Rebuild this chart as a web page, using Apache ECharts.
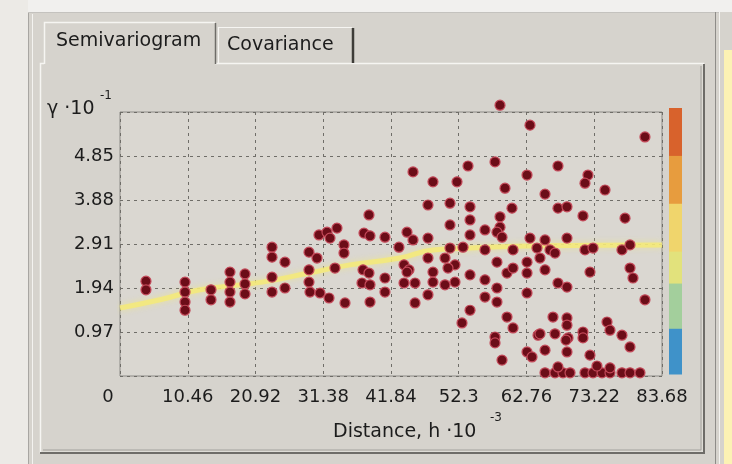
<!DOCTYPE html>
<html>
<head>
<meta charset="utf-8">
<script src="https://cdn.jsdelivr.net/npm/echarts@6/dist/echarts.min.js"></script>
<style>
  html, body { margin: 0; padding: 0; background: #d6d3cd; }
  #chart { width: 732px; height: 464px; }
</style>
</head>
<body>
<div id="chart"></div>
<script>
// Axis ticks (distance h·10^-3, semivariance γ·10^-1)
const distStep = 10.46;
const distMax = 83.68;
const gammaStep = 0.97;
const gammaMax = 5.82;

// Empirical semivariogram cloud, [distance, gamma] pairs
const shortLagPairs = [
  [4.01,2.09],[4.01,1.90],
  [10.04,2.07],[10.04,1.85],[10.04,1.63],[10.04,1.45],
  [14.05,1.90],[14.05,1.68],
  [16.98,2.29],[16.98,2.07],[16.98,1.85],[16.98,1.63],
  [19.30,2.25],[19.30,2.03],[19.30,1.81],
  [23.47,2.84],[23.47,2.62],[23.47,2.18],[23.47,1.85],
  [25.47,2.51],[25.47,1.94],
  [29.18,2.73],[30.41,2.60],[29.18,2.34],[29.18,2.07],[29.33,1.85],[30.88,1.83],[32.27,1.72],
  [30.72,3.11],[31.96,3.17],[33.50,3.26],[32.42,3.04],
  [34.58,2.89],[34.58,2.71],[33.19,2.38],[34.74,1.61],
  [38.44,3.55],[37.67,3.15],[38.60,3.09],[40.91,3.06],
  [37.52,2.34],[38.44,2.27],[37.36,2.05],[38.60,2.01],[38.60,1.63],
  [40.91,2.16],[40.91,1.85],
  [44.31,3.17],[43.07,2.84],[43.85,2.45],[44.62,2.34],[43.85,2.05]
];
const midLagPairs = [
  [58.67,5.97],[63.30,5.53],
  [45.24,4.50],[53.73,4.63],[57.90,4.72],[62.84,4.43],
  [48.32,4.28],[52.03,4.28],[59.44,4.14],
  [47.55,3.77],[50.95,3.81],[54.04,3.73],[60.52,3.70],
  [54.04,3.44],[50.95,3.33],[58.67,3.51],[58.67,3.28],[58.20,3.17],
  [56.35,3.22],[45.24,3.00],[47.55,3.04],[54.04,3.11],[58.98,3.06],[63.30,3.04],
  [50.95,2.82],[52.96,2.84],[56.35,2.78],[60.68,2.78],
  [47.55,2.60],[50.18,2.60],[51.72,2.45],[44.31,2.29],[48.32,2.29],[50.64,2.38],
  [58.20,2.51],[59.75,2.27],[60.68,2.38],[62.84,2.51],[62.84,2.27],
  [45.55,2.05],[48.32,2.07],[50.18,2.01],[51.72,2.07],[54.04,2.23],[56.35,2.12],
  [58.20,1.94],[47.55,1.79],[45.55,1.61],[56.35,1.74],[58.20,1.63],[62.84,1.83],
  [54.04,1.45],[52.80,1.17],[59.75,1.30],[60.68,1.06],[57.90,0.86],[57.90,0.73],
  [62.84,0.53],[63.61,0.42],[58.98,0.35],[64.54,0.90]
];
const longLagPairs = [
  [81.05,5.27],
  [67.62,4.63],[72.25,4.43],[71.79,4.25],[74.88,4.10],[65.62,4.01],
  [67.62,3.70],[69.01,3.73],[71.48,3.53],[77.97,3.48],
  [65.62,3.00],[69.01,3.04],[64.38,2.82],[66.39,2.78],[71.79,2.78],[73.03,2.82],[77.50,2.78],[78.74,2.89],
  [64.84,2.60],[67.16,2.71],[65.62,2.34],[72.56,2.29],[78.74,2.38],[79.20,2.16],
  [67.62,2.05],[69.01,1.96],[81.05,1.68],
  [66.85,1.30],[69.01,1.28],[75.19,1.19],[75.65,1.01],[69.01,1.12],
  [64.84,0.93],[67.16,0.93],[69.17,0.84],[71.48,0.97],[71.48,0.84],[77.50,0.90],[78.74,0.64],
  [65.62,0.57],[69.01,0.53],[72.56,0.46],[68.86,0.79],
  [65.62,0.07],[67.16,0.07],[68.39,0.07],[69.48,0.07],[71.79,0.07],[73.03,0.07],
  [74.42,0.07],[75.65,0.07],[77.50,0.07],[78.74,0.07],[80.28,0.07],
  [67.62,0.20],[73.64,0.22],[75.65,0.18]
];

// Fitted model curve
const modelDist  = [0, 6.18, 12.35, 21.92, 29.18, 35.51, 43.23, 48.32, 54.04, 64.84, 83.68];
const modelGamma = [1.50, 1.68, 1.90, 2.07, 2.27, 2.45, 2.60, 2.78, 2.82, 2.87, 2.89];

// Colour legend bands, top to bottom
const legendColors = ['#d8622c', '#e79c3e', '#f0d56c', '#e2e27c', '#a3cf9c', '#3f92c9'];
const legendBands  = [0.18, 0.18, 0.18, 0.12, 0.17, 0.17];

const FONT = 'DejaVu Sans';
const TXT = '#1c1c1c';

const chart = echarts.init(document.getElementById('chart'));

const gridL = 120, gridT = 112, gridR = 662, gridB = 376;

// legend colour bar rectangles
const barX = 669, barW = 13, barTop = 108, barBottom = 374;
const legendRects = [];
let acc = barTop;
legendColors.forEach((c, i) => {
  const h = legendBands[i] * (barBottom - barTop);
  legendRects.push({
    type: 'rect', shape: { x: barX, y: acc, width: barW, height: h + 0.5 },
    style: { fill: c }, z: 10
  });
  acc += h;
});

const scatterStyle = {
  color: '#6c0d18',
  borderColor: '#c44a5a',
  borderWidth: 1.2,
  opacity: 1
};

chart.setOption({
  backgroundColor: '#d6d3cd',
  animation: false,
  grid: {
    left: gridL, top: gridT, right: 732 - gridR, bottom: 464 - gridB,
    show: true, backgroundColor: '#dad7d1', borderColor: '#8c8a86', borderWidth: 1
  },
  xAxis: {
    type: 'value', min: 0, max: distMax, interval: distStep,
    axisLine: { show: false }, axisTick: { show: false },
    splitLine: { show: true, lineStyle: { color: '#6f6d68', type: [3, 4], width: 1 } },
    axisLabel: {
      color: TXT, fontFamily: FONT, fontSize: 18, margin: 12,
      formatter: v => v === 0 ? '{z|0}' : String(+v.toFixed(2)),
      rich: { z: { fontFamily: FONT, fontSize: 18, color: TXT, padding: [0, 24, 0, 0] } }
    }
  },
  yAxis: {
    type: 'value', min: 0, max: gammaMax, interval: gammaStep,
    axisLine: { show: false }, axisTick: { show: false },
    splitLine: { show: true, lineStyle: { color: '#6f6d68', type: [3, 4], width: 1 } },
    axisLabel: {
      color: TXT, fontFamily: FONT, fontSize: 18, margin: 6,
      formatter: v => (v === 0 || v > 5) ? '' : (+v.toFixed(2)).toFixed(2)
    }
  },
  graphic: [
    // window strips
    { type: 'rect', shape: { x: 0, y: 0, width: 732, height: 12 }, style: { fill: '#f1f0ee' }, z: -10 },
    { type: 'rect', shape: { x: 0, y: 0, width: 28, height: 464 }, style: { fill: '#eceae6' }, z: -10 },
    { type: 'line', shape: { x1: 28.5, y1: 12, x2: 28.5, y2: 464 }, style: { stroke: '#a8a6a2', lineWidth: 1 }, z: -9 },
    { type: 'line', shape: { x1: 28, y1: 12.5, x2: 720, y2: 12.5 }, style: { stroke: '#c4c2be', lineWidth: 1 }, z: -9 },
    { type: 'line', shape: { x1: 32.5, y1: 14, x2: 32.5, y2: 464 }, style: { stroke: '#f4f3f0', lineWidth: 1 }, z: -9 },
    // tab page frame
    { type: 'rect', shape: { x: 40.5, y: 63.5, width: 663, height: 389 },
      style: { fill: 'none', stroke: '#f6f5f2', lineWidth: 1.5 }, z: -8 },
    { type: 'polyline', shape: { points: [[704, 64], [704, 453], [40, 453]] },
      style: { fill: 'none', stroke: '#6e6c68', lineWidth: 2 }, z: -8 },
    { type: 'polyline', shape: { points: [[701, 66], [701, 450], [43, 450]] },
      style: { fill: 'none', stroke: '#a3a19c', lineWidth: 1 }, z: -8 },
    // right side panel
    { type: 'line', shape: { x1: 715.5, y1: 12, x2: 715.5, y2: 464 }, style: { stroke: '#8e8c88', lineWidth: 1 }, z: -9 },
    { type: 'line', shape: { x1: 719.5, y1: 12, x2: 719.5, y2: 464 }, style: { stroke: '#f4f3f0', lineWidth: 1 }, z: -9 },
    { type: 'rect', shape: { x: 724, y: 50, width: 8, height: 414 }, style: { fill: '#fcf2b4' }, z: -9 },
    // active tab
    { type: 'rect', shape: { x: 44, y: 22, width: 171, height: 43 }, style: { fill: '#d6d3cd' }, z: -7 },
    { type: 'polyline', shape: { points: [[44.5, 64], [44.5, 22.5], [215, 22.5]] },
      style: { fill: 'none', stroke: '#f6f5f2', lineWidth: 1.5 }, z: -7 },
    { type: 'line', shape: { x1: 215.5, y1: 23, x2: 215.5, y2: 64 }, style: { stroke: '#6e6c68', lineWidth: 1.5 }, z: -7 },
    // inactive tab
    { type: 'polyline', shape: { points: [[218.5, 63], [218.5, 27.5], [352, 27.5]] },
      style: { fill: 'none', stroke: '#f6f5f2', lineWidth: 1.2 }, z: -7 },
    { type: 'line', shape: { x1: 353, y1: 28, x2: 353, y2: 63 }, style: { stroke: '#3e3c38', lineWidth: 2.5 }, z: -7 },
    { type: 'text', left: 56, top: 32,
      style: { text: 'Semivariogram', fill: TXT, font: '19px "DejaVu Sans"' }, z: 5 },
    { type: 'text', left: 227, top: 36,
      style: { text: 'Covariance', fill: TXT, font: '19px "DejaVu Sans"' }, z: 5 },
    // axis titles
    { type: 'text', left: 47, top: 100,
      style: { text: 'γ ·10', fill: TXT, font: '19px "DejaVu Sans"' }, z: 5 },
    { type: 'text', left: 100, top: 90,
      style: { text: '-1', fill: TXT, font: '12px "DejaVu Sans"' }, z: 5 },
    { type: 'text', left: 333, top: 423,
      style: { text: 'Distance, h ·10', fill: TXT, font: '19px "DejaVu Sans"' }, z: 5 },
    { type: 'text', left: 490, top: 412,
      style: { text: '-3', fill: TXT, font: '12px "DejaVu Sans"' }, z: 5 },
    ...legendRects
  ],
  series: [
    {
      type: 'line', name: 'model',
      data: modelDist.map((d, i) => [d, modelGamma[i]]),
      smooth: true, symbol: 'none', z: 2,
      lineStyle: { color: 'rgba(244,234,120,0.85)', width: 5, shadowBlur: 6, shadowColor: 'rgba(244,234,120,0.7)' }
    },
    { type: 'scatter', data: shortLagPairs, symbolSize: 10, clip: false, itemStyle: scatterStyle, z: 3 },
    { type: 'scatter', data: midLagPairs, symbolSize: 10, clip: false, itemStyle: scatterStyle, z: 3 },
    { type: 'scatter', data: longLagPairs, symbolSize: 10, clip: false, itemStyle: scatterStyle, z: 3 }
  ]
});
</script>
</body>
</html>
